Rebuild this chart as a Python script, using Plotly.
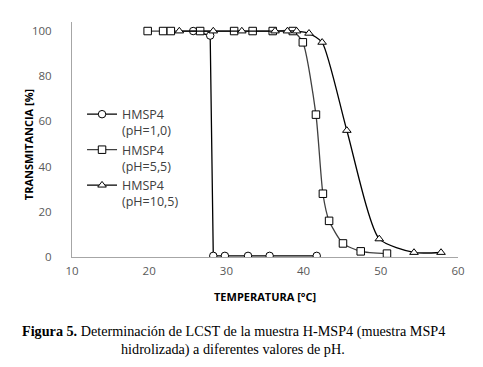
import plotly.graph_objects as go

# pH = 1,0 (circles)
t_ph1 = [25.7, 27.9, 28.3, 29.8, 32.8, 35.6, 41.7]
tr_ph1 = [100, 98, 0.5, 0.5, 0.5, 0.5, 0.5]

# pH = 5,5 (squares)
t_ph55 = [19.8, 21.8, 22.8, 26.6, 31.0, 33.4, 36.0, 38.6, 39.9, 41.6, 42.5, 43.3, 45.1, 47.4, 50.8]
tr_ph55 = [100, 100, 100, 100, 100, 100, 100, 100, 95, 63, 28, 16, 6, 2.5, 1.5]

# pH = 10,5 (triangles)
t_ph105 = [23.9, 28.3, 32.0, 36.3, 37.9, 39.1, 40.7, 42.4, 45.6, 49.8, 54.3, 57.8]
tr_ph105 = [100, 100, 100, 100, 100, 100, 99, 95, 56, 8, 2, 2]

names = ["HMSP4<br>(pH=1,0)", "HMSP4<br>(pH=5,5)", "HMSP4<br>(pH=10,5)"]
x_ticks = [10, 20, 30, 40, 50, 60]
y_ticks = [0, 20, 40, 60, 80, 100]

fig = go.Figure()
fig.add_trace(go.Scatter(x=t_ph1, y=tr_ph1, name=names[0], mode="lines+markers",
                         line=dict(color="black", width=1.3),
                         marker=dict(symbol="circle", size=7.5, color="white",
                                     line=dict(color="black", width=1))))
fig.add_trace(go.Scatter(x=t_ph55, y=tr_ph55, name=names[1], mode="lines+markers",
                         line=dict(color="#404040", width=1.3, shape="spline", smoothing=0.6),
                         marker=dict(symbol="square", size=7.5, color="white",
                                     line=dict(color="black", width=1))))
fig.add_trace(go.Scatter(x=t_ph105, y=tr_ph105, name=names[2], mode="lines+markers",
                         line=dict(color="black", width=1.3, shape="spline", smoothing=0.6),
                         marker=dict(symbol="triangle-up", size=7.5, color="white",
                                     line=dict(color="black", width=1))))

tickfont = dict(family="Open Sans, Liberation Sans, sans-serif", size=11.5, color="#595959")
titlefont = dict(family="Open Sans, Liberation Sans, sans-serif", size=11, color="black")

fig.update_layout(
    width=483, height=367,
    margin=dict(l=72, r=25, t=22, b=110, autoexpand=False),
    paper_bgcolor="white", plot_bgcolor="white",
    showlegend=True,
    legend=dict(x=0.026, y=0.67, xanchor="left", yanchor="top",
                font=dict(family="Open Sans, Liberation Sans, sans-serif", size=12.5, color="#404040"),
                valign="top", tracegroupgap=4, bgcolor="rgba(0,0,0,0)"),
    xaxis=dict(range=[10, 60], tickvals=x_ticks, showgrid=False, zeroline=False,
               showline=True, linecolor="#a6a6a6", linewidth=1, ticks="",
               tickfont=tickfont, ticklabelstandoff=3, automargin=False),
    yaxis=dict(range=[0, 104], tickvals=y_ticks, showgrid=False, zeroline=False,
               showline=True, linecolor="#a6a6a6", linewidth=1, ticks="",
               tickfont=tickfont, ticklabelstandoff=17, automargin=False),
)

fig.add_annotation(xref="paper", yref="paper", x=0.5, y=-0.170, xanchor="center", yanchor="middle",
                   showarrow=False, text="<b>TEMPERATURA [°C]</b>", font=titlefont)
fig.add_annotation(xref="paper", yref="paper", x=-0.114, y=0.48, xanchor="center", yanchor="middle",
                   showarrow=False, textangle=-90, text="<b>TRANSMITANCIA [%]</b>", font=titlefont)

fig.add_annotation(xref="paper", yref="paper", x=0.418, y=-0.315, xanchor="center", yanchor="middle",
                   showarrow=False,
                   text="<b>Figura 5.</b> Determinación de LCST de la muestra H-MSP4 (muestra MSP4",
                   font=dict(family="Liberation Serif, serif", size=14.2, color="black"))
fig.add_annotation(xref="paper", yref="paper", x=0.416, y=-0.392, xanchor="center", yanchor="middle",
                   showarrow=False,
                   text="hidrolizada) a diferentes valores de pH.",
                   font=dict(family="Liberation Serif, serif", size=14.2, color="black"))

fig.write_html("out.html", config={"displayModeBar": False},
               post_script="document.body.style.margin='0';")
